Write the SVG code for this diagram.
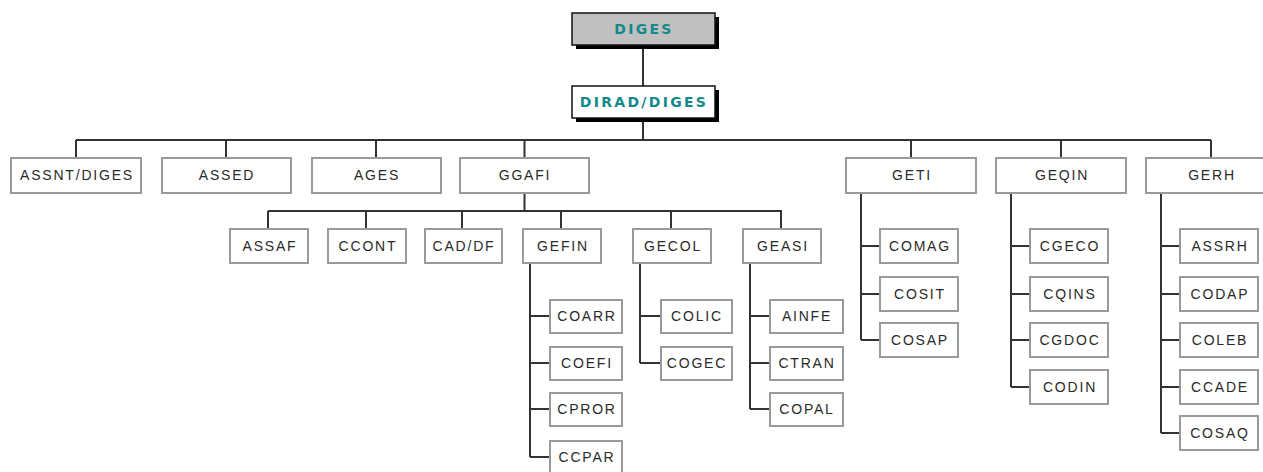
<svg xmlns="http://www.w3.org/2000/svg" width="1263" height="472" viewBox="0 0 1263 472">
<style>
.b{fill:#fff;stroke:#9a9a9a;stroke-width:2}
.t{font-family:"Liberation Sans",Arial,sans-serif;font-size:14px;letter-spacing:1.8px;fill:#2a2a2a;text-anchor:middle}
.h{font-family:"DejaVu Sans",Verdana,sans-serif;font-weight:bold;font-size:14px;letter-spacing:2.3px;fill:#13898b;text-anchor:middle}
.c{fill:none;stroke:#333;stroke-width:2}
.sh{fill:#000}
</style>
<rect width="1263" height="472" fill="#fff"/>
<g id="connectors">
<path class="c" d="M643 45V86M643 118V140M76 140H1211M76 140V158M226 140V158M376 140V158M524.5 140V158M911 140V158M1061 140V158M1211 140V158"/>
<path class="c" d="M524.5 193V211M268 211H782M268 211V229M366 211V229M462 211V229M561 211V229M671 211V229M781 211V229"/>
<path class="c" d="M530 263V457M530 316H550M530 363H550M530 409H550M530 457H550"/>
<path class="c" d="M640 263V363M640 316H661M640 363H661"/>
<path class="c" d="M750 263V409M750 316H770M750 363H770M750 409H770"/>
<path class="c" d="M861 193V340M861 246H880M861 294H880M861 340H880"/>
<path class="c" d="M1011 193V387M1011 246H1030M1011 294H1030M1011 340H1030M1011 387H1030"/>
<path class="c" d="M1161 193V433M1161 246H1180M1161 294H1180M1161 340H1180M1161 387H1180M1161 433H1180"/>
</g>
<g id="DIGES"><rect class="sh" x="576" y="17" width="143" height="32"/><rect x="572" y="13" width="143" height="32" fill="#c0c0c0" stroke="#111" stroke-width="1.5"/><text class="h" x="644" y="34">DIGES</text></g>
<g id="DIRAD"><rect class="sh" x="576" y="90" width="143" height="32"/><rect x="572" y="86" width="143" height="32" fill="#fff" stroke="#111" stroke-width="1.5"/><text class="h" x="644" y="107">DIRAD/DIGES</text></g>
<g id="ASSNT"><rect class="b" x="11" y="158" width="130" height="35"/><text class="t" x="77" y="180">ASSNT/DIGES</text></g>
<g id="ASSED"><rect class="b" x="162" y="158" width="129" height="35"/><text class="t" x="227" y="180">ASSED</text></g>
<g id="AGES"><rect class="b" x="312" y="158" width="129" height="35"/><text class="t" x="377" y="180">AGES</text></g>
<g id="GGAFI"><rect class="b" x="460" y="158" width="129" height="35"/><text class="t" x="525" y="180">GGAFI</text></g>
<g id="GETI"><rect class="b" x="846" y="158" width="130" height="35"/><text class="t" x="912" y="180">GETI</text></g>
<g id="GEQIN"><rect class="b" x="996" y="158" width="130" height="35"/><text class="t" x="1062" y="180">GEQIN</text></g>
<g id="GERH"><rect class="b" x="1146" y="158" width="130" height="35"/><text class="t" x="1212" y="180">GERH</text></g>
<g id="ASSAF"><rect class="b" x="230" y="229" width="78" height="34"/><text class="t" x="270" y="251">ASSAF</text></g>
<g id="CCONT"><rect class="b" x="328" y="229" width="78" height="34"/><text class="t" x="368" y="251">CCONT</text></g>
<g id="CADDF"><rect class="b" x="425" y="229" width="77" height="34"/><text class="t" x="464" y="251">CAD/DF</text></g>
<g id="GEFIN"><rect class="b" x="523" y="229" width="78" height="34"/><text class="t" x="563" y="251">GEFIN</text></g>
<g id="GECOL"><rect class="b" x="633" y="229" width="78" height="34"/><text class="t" x="673" y="251">GECOL</text></g>
<g id="GEASI"><rect class="b" x="743" y="229" width="78" height="34"/><text class="t" x="783" y="251">GEASI</text></g>
<g id="COARR"><rect class="b" x="550" y="300" width="72" height="33"/><text class="t" x="587" y="321">COARR</text></g>
<g id="COEFI"><rect class="b" x="550" y="347" width="72" height="33"/><text class="t" x="587" y="368">COEFI</text></g>
<g id="CPROR"><rect class="b" x="550" y="393" width="72" height="33"/><text class="t" x="587" y="414">CPROR</text></g>
<g id="CCPAR"><rect class="b" x="550" y="441" width="72" height="33"/><text class="t" x="587" y="462">CCPAR</text></g>
<g id="COLIC"><rect class="b" x="661" y="300" width="71" height="33"/><text class="t" x="697" y="321">COLIC</text></g>
<g id="COGEC"><rect class="b" x="661" y="347" width="71" height="33"/><text class="t" x="697" y="368">COGEC</text></g>
<g id="AINFE"><rect class="b" x="770" y="300" width="73" height="33"/><text class="t" x="807" y="321">AINFE</text></g>
<g id="CTRAN"><rect class="b" x="770" y="347" width="73" height="33"/><text class="t" x="807" y="368">CTRAN</text></g>
<g id="COPAL"><rect class="b" x="770" y="393" width="73" height="33"/><text class="t" x="807" y="414">COPAL</text></g>
<g id="COMAG"><rect class="b" x="880" y="229" width="78" height="34"/><text class="t" x="920" y="251">COMAG</text></g>
<g id="COSIT"><rect class="b" x="880" y="277" width="78" height="34"/><text class="t" x="920" y="299">COSIT</text></g>
<g id="COSAP"><rect class="b" x="880" y="323" width="78" height="34"/><text class="t" x="920" y="345">COSAP</text></g>
<g id="CGECO"><rect class="b" x="1030" y="229" width="78" height="34"/><text class="t" x="1070" y="251">CGECO</text></g>
<g id="CQINS"><rect class="b" x="1030" y="277" width="78" height="34"/><text class="t" x="1070" y="299">CQINS</text></g>
<g id="CGDOC"><rect class="b" x="1030" y="323" width="78" height="34"/><text class="t" x="1070" y="345">CGDOC</text></g>
<g id="CODIN"><rect class="b" x="1030" y="370" width="78" height="34"/><text class="t" x="1070" y="392">CODIN</text></g>
<g id="ASSRH"><rect class="b" x="1180" y="229" width="78" height="34"/><text class="t" x="1220" y="251">ASSRH</text></g>
<g id="CODAP"><rect class="b" x="1180" y="277" width="78" height="34"/><text class="t" x="1220" y="299">CODAP</text></g>
<g id="COLEB"><rect class="b" x="1180" y="323" width="78" height="34"/><text class="t" x="1220" y="345">COLEB</text></g>
<g id="CCADE"><rect class="b" x="1180" y="370" width="78" height="34"/><text class="t" x="1220" y="392">CCADE</text></g>
<g id="COSAQ"><rect class="b" x="1180" y="416" width="78" height="34"/><text class="t" x="1220" y="438">COSAQ</text></g>
</svg>
